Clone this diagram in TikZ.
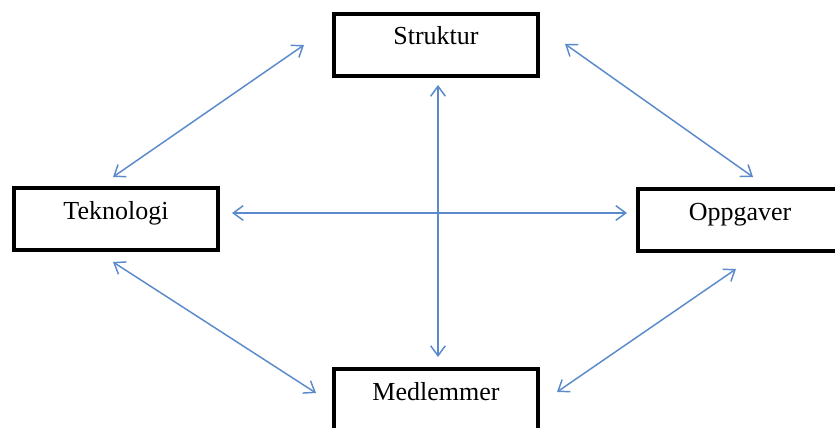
\documentclass[tikz,border=0pt]{standalone}
\usepackage{fontspec}
\setmainfont{Liberation Serif}
\usetikzlibrary{arrows.meta}
\definecolor{linkblue}{HTML}{5A8ACB}
\tikzset{
  box/.style={draw, line width=3pt, minimum width=153pt, minimum height=46.5pt,
    inner sep=0pt, text height=0pt, text depth=0pt, font=\fontsize{19.5}{23}\selectfont},
  link/.style={draw=linkblue, line width=1.1pt,
    {Straight Barb[length=7.5pt,width=11pt]}-{Straight Barb[length=7.5pt,width=11pt]}}
}
\begin{document}
\begin{tikzpicture}[x=0.75pt,y=-0.75pt]
\useasboundingbox (0,0) rectangle (835,428);
% Boxes
\node[box] (struktur) at (436,45) {Struktur};
\node[box] (teknologi) at (116,219) {Teknologi};
\node[box] (oppgaver) at (740,220) {Oppgaver};
\node[box] (medlemmer) at (436,400) {Medlemmer};

% Arrows
\draw[link] ([shift={(-28,0)}]struktur.west) -- ([shift={(-3,-9)}]teknologi.north);
\draw[link] ([shift={(25,-1)}]struktur.east) -- ([shift={(13,-10)}]oppgaver.north);
\draw[link] ([shift={(2,7)}]struktur.south) -- ([shift={(2,-10)}]medlemmer.north);
\draw[link] ([shift={(12,-6)}]teknologi.east) -- ([shift={(-9,-7)}]oppgaver.west);
\draw[link] ([shift={(-3,10)}]teknologi.south) -- ([shift={(-16,-7)}]medlemmer.west);
\draw[link] ([shift={(-4,16)}]oppgaver.south) -- ([shift={(17,-8)}]medlemmer.east);
\end{tikzpicture}
\end{document}
